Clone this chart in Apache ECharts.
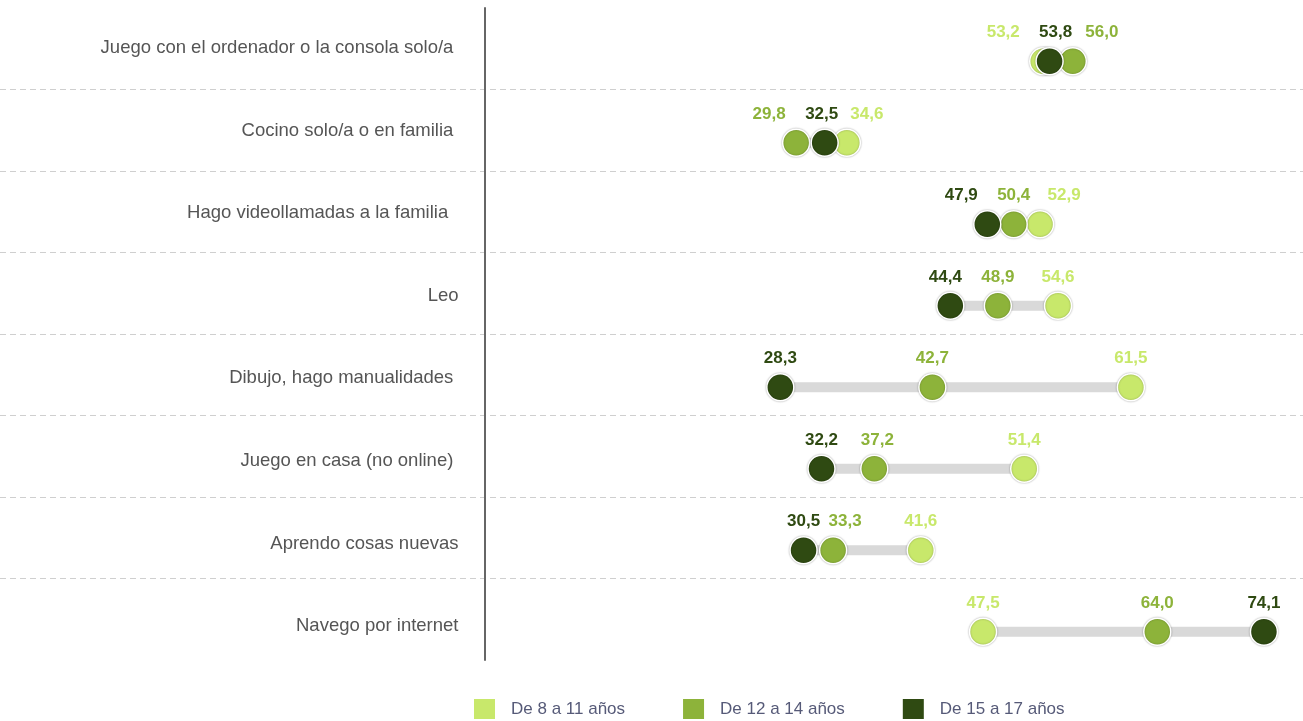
<!DOCTYPE html>
<html>
<head>
<meta charset="utf-8">
<script src="https://cdn.jsdelivr.net/npm/echarts@6/dist/echarts.min.js"></script>
<style>html,body{margin:0;padding:0;background:#fff;}#c{width:1303px;height:721px;}</style>
</head>
<body>
<div id="c"></div>
<script>
// ---- data ----
var categories = [
  "Juego con el ordenador o la consola solo/a ",
  "Cocino solo/a o en familia ",
  "Hago videollamadas a la familia  ",
  "Leo",
  "Dibujo, hago manualidades ",
  "Juego en casa (no online) ",
  "Aprendo cosas nuevas",
  "Navego por internet"
];
var seriesNames = ["De 8 a 11 años", "De 12 a 14 años", "De 15 a 17 años"];
var age8to11  = [53.2, 34.6, 52.9, 54.6, 61.5, 51.4, 41.6, 47.5];
var age12to14 = [56.0, 29.8, 50.4, 48.9, 42.7, 37.2, 33.3, 64.0];
var age15to17 = [53.8, 32.5, 47.9, 44.4, 28.3, 32.2, 30.5, 74.1];

// ---- label nudges (px), to avoid overlapping value labels ----
var nudge8to11  = [-40, 20, 24, 0, 0, 0, 0, 0];
var nudge12to14 = [29, -27, 0, 0, 0, 3, 12, 0];
var nudge15to17 = [6, -3, -26, -5, 0, 0, 0, 0];

var colors = ['#c8e86b', '#8db33a', '#2f4a12'];
var ROW_SHIFT = 12.5;
var FONT = 'Liberation Sans, Arial, sans-serif';

function fmt(v){ return v.toFixed(1).replace('.', ','); }

function scatterSeries(name, values, nudges, color){
  return {
    name: name,
    type: 'scatter',
    xAxisIndex: 1, yAxisIndex: 1,
    symbol: 'circle',
    symbolSize: 27,
    symbolOffset: [0, ROW_SHIFT],
    itemStyle: {color: color, borderColor: '#ffffff', borderWidth: 1.5, shadowBlur: 2, shadowColor: 'rgba(0,0,0,0.3)', opacity: 1},
    emphasis: {disabled: true},
    label: {
      show: true, position: 'top', distance: 6,
      color: color, fontSize: 17, fontWeight: 'bold', fontFamily: FONT,
      formatter: function(p){ return fmt(p.value[0]); }
    },
    data: values.map(function(v, i){
      return {value: [v, i], label: {offset: [nudges[i], 0]}};
    })
  };
}

var rangeData = categories.map(function(c, i){
  var vals = [age8to11[i], age12to14[i], age15to17[i]];
  return [i, Math.min.apply(null, vals), Math.max.apply(null, vals)];
});

var chart = echarts.init(document.getElementById('c'), null, {renderer: 'canvas'});
chart.setOption({
  animation: false,
  backgroundColor: '#ffffff',
  grid: [
    {left: 0, right: 0, top: 8, bottom: 61, containLabel: false, outerBoundsMode: 'none'},
    {left: 481.5, right: 0, top: 8, bottom: 61, containLabel: false, outerBoundsMode: 'none'},
    {left: 484.5, right: 0, top: 6.7, bottom: 53.7, containLabel: false, outerBoundsMode: 'none'}
  ],
  xAxis: [
    {gridIndex: 0, type: 'value', min: 0, max: 1, show: false, splitLine: {show: false}},
    {gridIndex: 1, type: 'value', min: 0, max: 77.8, show: false, splitLine: {show: false}},
    {gridIndex: 2, type: 'value', min: 0, max: 1, show: false, splitLine: {show: false}}
  ],
  yAxis: [
    {
      gridIndex: 0, type: 'category', inverse: true, data: categories,
      axisLine: {show: false}, axisTick: {show: false}, axisLabel: {show: false},
      splitLine: {show: true, showMinLine: false, showMaxLine: false, lineStyle: {color: '#cfcfcf', type: [6, 4], width: 1}}
    },
    {
      gridIndex: 1, type: 'category', inverse: true, data: categories, offset: -3,
      axisLine: {show: true, onZero: false, lineStyle: {color: '#666666', width: 2}},
      axisTick: {show: false}, axisLabel: {show: false},
      splitLine: {show: false}
    },
    {
      gridIndex: 2, type: 'category', inverse: true, data: categories,
      axisLine: {show: false}, axisTick: {show: false},
      axisLabel: {color: '#555555', fontSize: 18.5, margin: 26, fontFamily: FONT},
      splitLine: {show: false}
    }
  ],
  legend: {
    data: seriesNames,
    left: 474, top: 699, padding: 0,
    icon: 'rect', itemWidth: 21, itemHeight: 20, itemGap: 58,
    itemStyle: {borderWidth: 0, shadowBlur: 0},
    textStyle: {color: '#565a78', fontSize: 17, fontFamily: FONT, padding: [0, 0, 0, 11]}
  },
  series: [
    {
      type: 'custom',
      xAxisIndex: 1, yAxisIndex: 1,
      silent: true,
      encode: {x: [1, 2], y: 0},
      renderItem: function(params, api){
        var a = api.coord([api.value(1), api.value(0)]);
        var b = api.coord([api.value(2), api.value(0)]);
        var h = 10;
        return {type: 'rect', shape: {x: a[0], y: a[1] + ROW_SHIFT - h / 2, width: b[0] - a[0], height: h}, style: {fill: '#d9d9d9'}};
      },
      data: rangeData
    },
    scatterSeries(seriesNames[0], age8to11, nudge8to11, colors[0]),
    scatterSeries(seriesNames[1], age12to14, nudge12to14, colors[1]),
    scatterSeries(seriesNames[2], age15to17, nudge15to17, colors[2])
  ]
});
</script>
</body>
</html>
